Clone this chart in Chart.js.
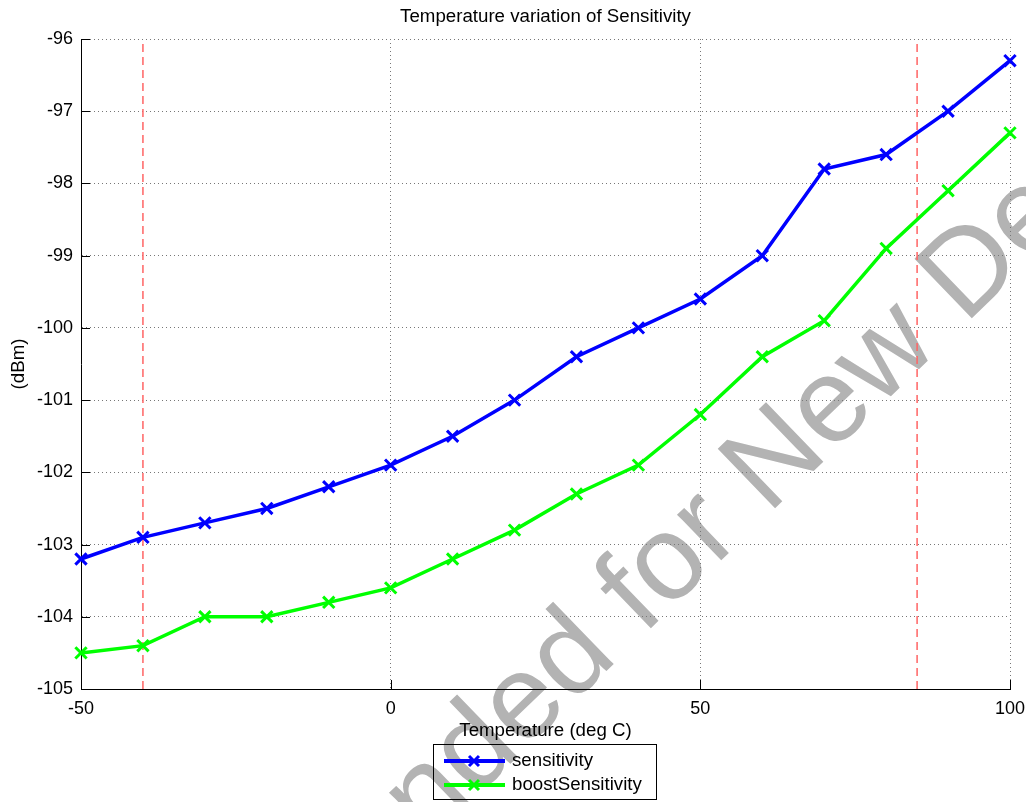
<!DOCTYPE html>
<html><head><meta charset="utf-8">
<script src="https://cdn.jsdelivr.net/npm/chart.js@4.4.0/dist/chart.umd.min.js"></script>
<style>html,body{margin:0;padding:0;background:#fff;overflow:hidden}canvas{display:block}</style>
</head><body>
<canvas id="c" width="1026" height="802"></canvas>
<script>
const temps = [-50,-40,-30,-20,-10,0,10,20,30,40,50,60,70,80,90,100];
const sensitivity = [-103.2,-102.9,-102.7,-102.5,-102.2,-101.9,-101.5,-101.0,-100.4,-100.0,-99.6,-99.0,-97.8,-97.6,-97.0,-96.3];
const boostSensitivity = [-104.5,-104.4,-104.0,-104.0,-103.8,-103.6,-103.2,-102.8,-102.3,-101.9,-101.2,-100.4,-99.9,-98.9,-98.1,-97.3];
const limitTemps = [-40, 85];
const xTicks = [-50, 0, 50, 100];
const yTicks = [-105,-104,-103,-102,-101,-100,-99,-98,-97,-96];
const seriesNames = ['sensitivity','boostSensitivity'];
const seriesColors = ['#0000ff','#00ff00'];
const titleText = 'Temperature variation of Sensitivity';
const xTitle = 'Temperature (deg C)';
const yTitle = '(dBm)';
const watermarkText = 'Not Recommended for New Designs';
const watermarkLead = 'Not Recommended for ';

const FONT = "'Liberation Sans', Arial, Helvetica, sans-serif";
const TEXT_SIZE = 18.7;
const TICK_SIZE = 18;
const yMin = yTicks[0], yMax = yTicks[yTicks.length-1];

const datasets = [
  {label: seriesNames[0], data: temps.map((t,i)=>({x:t,y:sensitivity[i]})), borderColor: seriesColors[0], backgroundColor: seriesColors[0]},
  {label: seriesNames[1], data: temps.map((t,i)=>({x:t,y:boostSensitivity[i]})), borderColor: seriesColors[1], backgroundColor: seriesColors[1]}
].map(d=>Object.assign(d,{borderWidth:3.5, pointStyle:'crossRot', pointRadius:8, pointBorderWidth:3, pointHoverRadius:8, tension:0, fill:false, clip:false}));
limitTemps.forEach(t=>datasets.push({label:'limit', data:[{x:t,y:yMin},{x:t,y:yMax}], borderColor:'#ff6464', borderWidth:1.5, borderDash:[8,5], pointRadius:0, fill:false}));

const decor = {
  id:'decor',
  beforeDraw(chart){
    const ctx = chart.ctx;
    ctx.save();
    ctx.fillStyle = '#fff';
    ctx.fillRect(0,0,chart.width,chart.height);
    // watermark
    ctx.font = '120px ' + FONT;
    ctx.fillStyle = '#b3b3b3';
    ctx.translate(768,515);
    ctx.rotate(-44*Math.PI/180);
    ctx.textBaseline = 'alphabetic';
    ctx.textAlign = 'left';
    ctx.fillText(watermarkText, -ctx.measureText(watermarkLead).width, 0);
    ctx.restore();
  },
  afterDraw(chart){
    const ctx = chart.ctx, a = chart.chartArea;
    const xs = chart.scales.x, ys = chart.scales.y;
    ctx.save();
    // inward ticks
    ctx.strokeStyle = '#000'; ctx.lineWidth = 1;
    ctx.beginPath();
    yTicks.forEach(v=>{ const y = Math.round(ys.getPixelForValue(v))+0.5; ctx.moveTo(a.left, y); ctx.lineTo(a.left+9, y); });
    xTicks.forEach(v=>{ const x = Math.round(xs.getPixelForValue(v))+0.5; ctx.moveTo(x, a.bottom); ctx.lineTo(x, a.bottom-9); });
    ctx.stroke();
    // title
    ctx.fillStyle = '#000';
    ctx.textAlign = 'center'; ctx.textBaseline = 'middle';
    ctx.font = TEXT_SIZE + 'px ' + FONT;
    ctx.fillText(titleText, (a.left+a.right)/2, 17);
    // x title
    ctx.fillText(xTitle, (a.left+a.right)/2, 731);
    // y title
    ctx.save();
    ctx.translate(19, (a.top+a.bottom)/2);
    ctx.rotate(-Math.PI/2);
    ctx.fillText(yTitle, 0, 0);
    ctx.restore();
    // legend
    ctx.strokeStyle = '#000'; ctx.lineWidth = 1;
    ctx.strokeRect(433.5, 744.5, 223, 55);
    const rows = [761, 785];
    seriesNames.forEach((name,i)=>{
      const y = rows[i];
      ctx.strokeStyle = seriesColors[i];
      ctx.lineWidth = 4;
      ctx.beginPath(); ctx.moveTo(444,y); ctx.lineTo(505,y); ctx.stroke();
      ctx.lineWidth = 3;
      ctx.beginPath();
      ctx.moveTo(469,y-5); ctx.lineTo(479,y+5);
      ctx.moveTo(469,y+5); ctx.lineTo(479,y-5);
      ctx.stroke();
      ctx.fillStyle = '#000';
      ctx.textAlign = 'left'; ctx.textBaseline = 'middle';
      ctx.fillText(name, 512, y);
    });
    ctx.restore();
  }
};

new Chart(document.getElementById('c'), {
  type:'line',
  data:{datasets},
  options:{
    responsive:false,
    animation:false,
    events:[],
    layout:{padding:{left:0,right:16,top:39,bottom:0}},
    plugins:{legend:{display:false}, title:{display:false}, tooltip:{enabled:false}},
    scales:{
      x:{type:'linear', min:xTicks[0], max:xTicks[xTicks.length-1],
         afterBuildTicks(s){ s.ticks = xTicks.map(v=>({value:v})); },
         afterFit(s){ s.height = 113; s.paddingLeft = 0; s.paddingRight = 0; },
         grid:{color:'#777', lineWidth:1, drawTicks:false},
         border:{display:true, color:'#000', width:1, dash:[1,3]},
         ticks:{color:'#000', font:{family:FONT, size:TICK_SIZE}, padding:9, maxRotation:0}},
      y:{type:'linear', min:yMin, max:yMax,
         afterBuildTicks(s){ s.ticks = yTicks.map(v=>({value:v})); },
         afterFit(s){ s.width = 81; s.paddingTop = 0; s.paddingBottom = 0; },
         grid:{color:'#777', lineWidth:1, drawTicks:false},
         border:{display:true, color:'#000', width:1, dash:[1,3]},
         ticks:{color:'#000', font:{family:FONT, size:TICK_SIZE}, padding:8}}
    }
  },
  plugins:[decor]
});
</script>
</body></html>
